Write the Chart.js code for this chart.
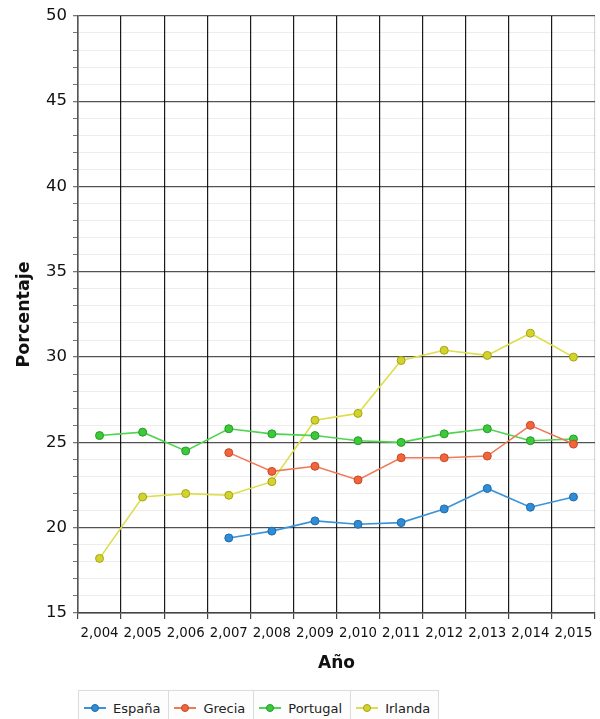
<!DOCTYPE html>
<html>
<head>
<meta charset="utf-8">
<script src="https://cdn.jsdelivr.net/npm/chart.js@4.4.1/dist/chart.umd.min.js"></script>
<style>
  html, body { margin: 0; padding: 0; background: #fff; }
  #wrap { position: relative; width: 600px; height: 719px; overflow: hidden; }
  #legend { position: absolute; left: 78px; top: 690px; display: flex; border: 1px solid #dcdcdc; background: #fdfdfd;
            font-family: "DejaVu Sans", sans-serif; font-size: 13px; color: #222; }
  .item { display: flex; align-items: center; height: 34px; padding: 0 8px 8px 5px; border-right: 1px solid #dcdcdc; }
  .item:last-child { border-right: none; }
  .sym { position: relative; width: 22px; height: 10px; margin-right: 7px; }
  .sym .ln { position: absolute; left: 0; right: 0; top: 4px; height: 2px; }
  .sym .dt { position: absolute; left: 7px; top: 1px; width: 6px; height: 6px; border-radius: 50%; border: 1px solid; }
</style>
</head>
<body>
<div id="wrap">
  <canvas id="chart" width="600" height="719"></canvas>
  <div id="legend"></div>
</div>
<script>
  var years = ['2004', '2005', '2006', '2007', '2008', '2009', '2010', '2011', '2012', '2013', '2014', '2015'];
  var yearLabels = ['2,004', '2,005', '2,006', '2,007', '2,008', '2,009', '2,010', '2,011', '2,012', '2,013', '2,014', '2,015'];
  var espana = [null, null, null, 19.4, 19.8, 20.4, 20.2, 20.3, 21.1, 22.3, 21.2, 21.8];
  var grecia = [null, null, null, 24.4, 23.3, 23.6, 22.8, 24.1, 24.1, 24.2, 26.0, 24.9];
  var portugal = [25.4, 25.6, 24.5, 25.8, 25.5, 25.4, 25.1, 25.0, 25.5, 25.8, 25.1, 25.2];
  var irlanda = [18.2, 21.8, 22.0, 21.9, 22.7, 26.3, 26.7, 29.8, 30.4, 30.1, 31.4, 30.0];

  var series = [
    { label: 'España', data: espana, line: '#3a93d8', fill: '#2f8cd6', edge: '#1f6aa8' },
    { label: 'Grecia', data: grecia, line: '#ef7a55', fill: '#f0653a', edge: '#c8492a' },
    { label: 'Portugal', data: portugal, line: '#4fd44f', fill: '#3cc93c', edge: '#249a24' },
    { label: 'Irlanda', data: irlanda, line: '#dede4a', fill: '#d3d32c', edge: '#a3a31c' }
  ];

  var datasets = series.map(function (s) {
    return {
      label: s.label,
      data: s.data,
      borderColor: s.line,
      backgroundColor: s.fill,
      borderWidth: 1.6,
      pointRadius: 4,
      pointBorderWidth: 1,
      pointBorderColor: s.edge,
      pointBackgroundColor: s.fill,
      tension: 0,
      spanGaps: false
    };
  });

  var chart = new Chart(document.getElementById('chart'), {
    type: 'line',
    data: { labels: years, datasets: datasets },
    options: {
      responsive: false,
      animation: false,
      layout: { padding: { left: 0, right: 5, top: 6, bottom: 36 } },
      plugins: { legend: { display: false }, tooltip: { enabled: false } },
      scales: {
        x: {
          offset: true,
          grid: {
            offset: true,
            color: function (ctx) { return ctx.type === 'tick' ? '#1a1a1a' : '#d8d8d8'; },
            lineWidth: 1.2,
            tickLength: 6,
            tickColor: '#444'
          },
          border: { color: '#444', width: 1.5 },
          ticks: {
            color: '#111',
            padding: 7,
            maxRotation: 0,
            autoSkip: false,
            font: { family: 'DejaVu Sans', size: 13.3 },
            callback: function (v, i) { return yearLabels[i]; }
          },
          title: {
            display: true,
            text: 'Año',
            color: '#111',
            font: { family: 'DejaVu Sans', size: 17, weight: 'bold' },
            padding: { top: 0, bottom: 9 }
          },
          afterFit: function (scale) { scale.height = 70; }
        },
        y: {
          min: 15,
          max: 50,
          ticks: {
            stepSize: 1,
            autoSkip: false,
            color: '#111',
            padding: 6,
            font: { family: 'DejaVu Sans', size: 16.5 },
            callback: function (v) { return v % 5 === 0 ? v : ''; }
          },
          grid: {
            color: function (ctx) { return ctx.tick && ctx.tick.value % 5 === 0 ? 'rgba(0,0,0,0.68)' : 'rgba(0,0,0,0.07)'; },
            lineWidth: function (ctx) { return ctx.tick && ctx.tick.value % 5 === 0 ? 1.3 : 1; },
            tickColor: '#777',
            tickLength: 5
          },
          border: { color: '#555', width: 1.5 },
          title: {
            display: true,
            text: 'Porcentaje',
            color: '#111',
            font: { family: 'DejaVu Sans', size: 17.5, weight: 'bold' },
            padding: { top: 14, bottom: 0 }
          },
          afterFit: function (scale) { scale.width = 78; }
        }
      }
    }
  });

  var legend = document.getElementById('legend');
  series.forEach(function (s) {
    var item = document.createElement('div');
    item.className = 'item';
    item.innerHTML = '<span class="sym"><span class="ln" style="background:' + s.line + '"></span>' +
      '<span class="dt" style="background:' + s.fill + ';border-color:' + s.edge + '"></span></span>' +
      '<span>' + s.label + '</span>';
    legend.appendChild(item);
  });
</script>
</body>
</html>
